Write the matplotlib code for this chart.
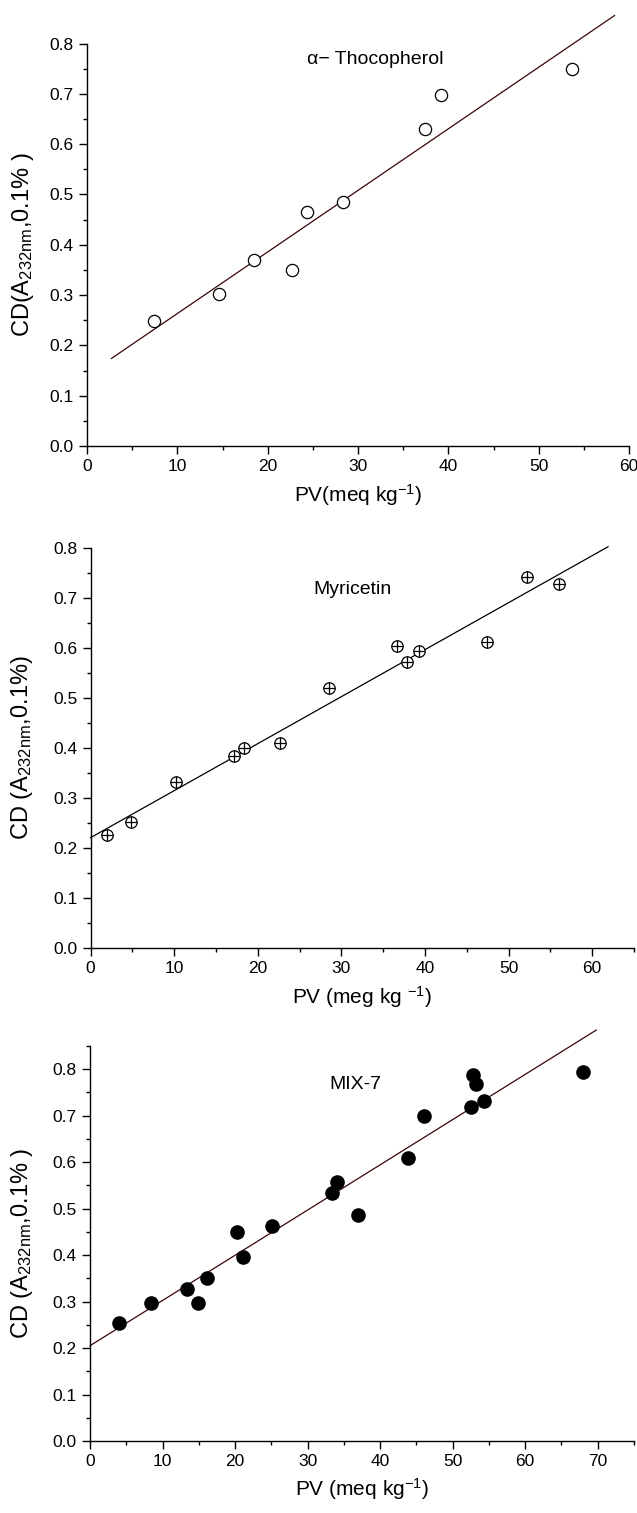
import numpy as np
import matplotlib
matplotlib.use("Agg")
import matplotlib.pyplot as plt
from matplotlib.ticker import MultipleLocator

plt.rcParams['font.family'] = ['Liberation Sans', 'DejaVu Sans']
plt.rcParams['mathtext.default'] = 'regular'

# alpha-tocopherol
toco_pv = [7.4, 14.6, 18.5, 22.7, 24.4, 28.3, 37.4, 39.2, 53.7]
toco_cd = [0.249, 0.302, 0.370, 0.350, 0.466, 0.485, 0.630, 0.698, 0.750]
toco_fit = (0.141, 0.01224)   # intercept, slope
toco_fit_range = [2.7, 58.4]

# myricetin
myr_pv = [2.0, 4.9, 10.2, 17.2, 18.3, 22.7, 28.5, 36.7, 37.8, 39.3, 47.4, 52.2, 56.0]
myr_cd = [0.227, 0.253, 0.333, 0.384, 0.401, 0.411, 0.520, 0.605, 0.573, 0.594, 0.612, 0.742, 0.729]
myr_fit = (0.2207, 0.0094)
myr_fit_range = [0.0, 61.9]

# MIX-7
mix_pv = [4.0, 8.4, 13.4, 14.9, 16.1, 20.2, 21.1, 25.1, 33.3, 34.0, 37.0, 43.9, 46.0,
          52.5, 52.8, 53.2, 54.3, 68.0]
mix_cd = [0.253, 0.297, 0.326, 0.296, 0.350, 0.449, 0.396, 0.463, 0.533, 0.557, 0.486,
          0.608, 0.699, 0.718, 0.787, 0.769, 0.731, 0.793]
mix_fit = (0.205, 0.00973)
mix_fit_range = [0.0, 69.8]

fig = plt.figure(figsize=(6.37, 15.13), dpi=100)
ax1 = fig.add_axes([0.1366, 0.7052, 0.8509, 0.2660])
ax2 = fig.add_axes([0.1421, 0.3734, 0.8532, 0.2644])
ax3 = fig.add_axes([0.1413, 0.0476, 0.8540, 0.2611])


def style(ax, xmax, ymax):
    ax.set_xlim(0, xmax)
    ax.set_ylim(0, ymax)
    for s in ['top', 'right']:
        ax.spines[s].set_visible(False)
    for s in ['left', 'bottom']:
        ax.spines[s].set_linewidth(1.0)
    ax.xaxis.set_major_locator(MultipleLocator(10))
    ax.xaxis.set_minor_locator(MultipleLocator(5))
    ax.yaxis.set_major_locator(MultipleLocator(0.1))
    ax.yaxis.set_minor_locator(MultipleLocator(0.05))
    ax.yaxis.set_major_formatter(lambda v, p: f"{v:.1f}")
    ax.tick_params(which='major', direction='out', length=5.5, width=1.0,
                   labelsize=12.5, pad=4)
    ax.tick_params(which='minor', direction='out', length=3, width=1.0)


def fit_line(ax, coef, xr, color):
    xs = np.array(xr)
    ax.plot(xs, coef[0] + coef[1] * xs, color=color, lw=0.9, clip_on=False, zorder=1)


# panel 1
style(ax1, 60, 0.8)
fit_line(ax1, toco_fit, toco_fit_range, '#3a0505')
ax1.plot(toco_pv, toco_cd, 'o', ms=8.8, mfc='white', mec='black', mew=0.9, clip_on=False)
ax1.text(24.4, 0.768, 'α− Thocopherol', fontsize=14, va='center')
ax1.set_xlabel('PV(meq kg$^{-1}$)', fontsize=15)
ax1.set_ylabel('CD(A$_{232nm}$,0.1% )', fontsize=17)
ax1.yaxis.set_label_coords(-0.095, 0.5)
ax1.xaxis.set_label_coords(0.5, -0.09)

# panel 2
style(ax2, 65, 0.8)
fit_line(ax2, myr_fit, myr_fit_range, 'black')
ax2.plot(myr_pv, myr_cd, 'o', ms=8.2, mfc='white', mec='black', mew=0.9, clip_on=False)
ax2.plot(myr_pv, myr_cd, '+', ms=8.2, color='black', mew=0.9, clip_on=False)
ax2.text(26.6, 0.718, 'Myricetin', fontsize=14, va='center')
ax2.set_xlabel('PV (meg kg $^{-1}$)', fontsize=15)
ax2.set_ylabel('CD (A$_{232nm}$,0.1%)', fontsize=17)
ax2.yaxis.set_label_coords(-0.102, 0.5)
ax2.xaxis.set_label_coords(0.5, -0.09)

# panel 3
style(ax3, 75, 0.85)
fit_line(ax3, mix_fit, mix_fit_range, '#3a0505')
ax3.plot(mix_pv, mix_cd, 'o', ms=9.5, color='black', clip_on=False)
ax3.text(33.0, 0.767, 'MIX-7', fontsize=14, va='center')
ax3.set_xlabel('PV (meq kg$^{-1}$)', fontsize=15)
ax3.set_ylabel('CD (A$_{232nm}$,0.1% )', fontsize=17)
ax3.yaxis.set_label_coords(-0.102, 0.5)
ax3.xaxis.set_label_coords(0.5, -0.09)

fig.savefig('out.png', dpi=100)
